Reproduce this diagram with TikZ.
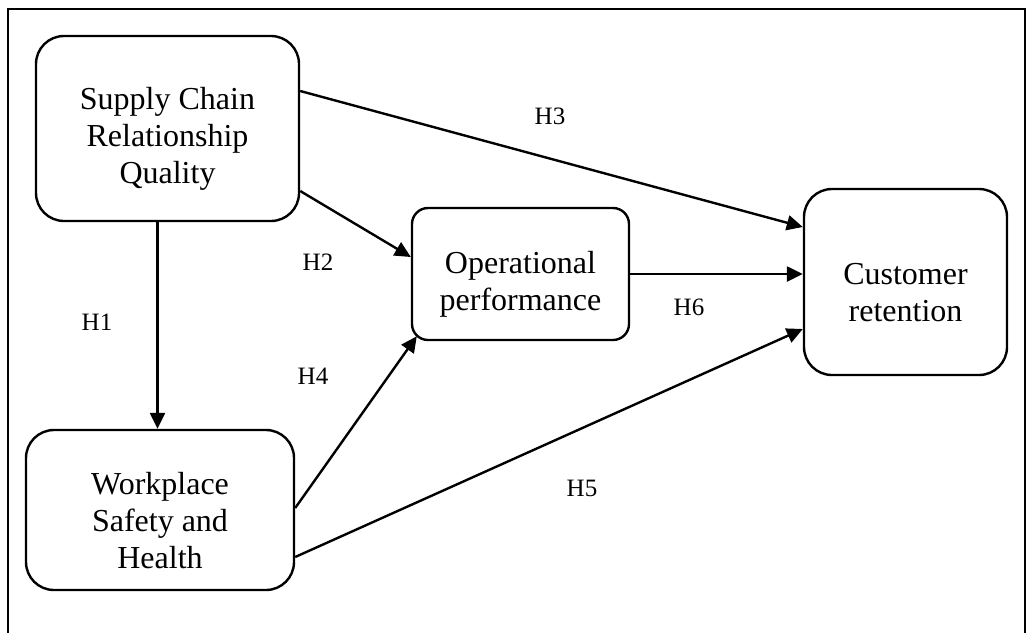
\documentclass[tikz,border=0pt]{standalone}
\usepackage{fontspec}
\setmainfont{Liberation Serif}
\usetikzlibrary{arrows.meta}
\newcommand{\lift}{\rule{0pt}{21.5pt}}

\begin{document}
\begin{tikzpicture}[x=0.5pt,y=-0.5pt,
   box/.style={draw,line width=1.2pt,rounded corners=14pt,align=center,inner sep=0pt,
     font=\fontsize{16}{18.5}\selectfont},
   hyp/.style={font=\fontsize{12.5}{15}\selectfont,inner sep=0pt},
   link/.style={line width=1.2pt,-{Triangle[length=8pt,width=7.5pt]}}]
   \useasboundingbox (0,0) rectangle (1027,632);
   \draw[line width=1.2pt] (8,645) -- (8,9) -- (1025,9) -- (1025,645);
   \node[box,minimum width=131.5pt,minimum height=92.5pt] (scrq) at (167.5,128.5) {\lift Supply Chain\\Relationship\\Quality};
   \node[box,minimum width=134pt,minimum height=80pt] (wsh) at (160,510) {\lift Workplace\\Safety and\\Health};
   \node[box,rounded corners=8pt,minimum width=108.5pt,minimum height=66pt] (op) at (520.5,274) {\lift Operational\\performance};
   \node[box,minimum width=101.5pt,minimum height=93pt] (cr) at (905.5,282) {\lift Customer\\retention};
   \draw[link] ([xshift=-5pt]scrq.south) -- ([xshift=-5pt]scrq.south |- wsh.north);
   \draw[link] ([yshift=-31.25pt]scrq.east) -- ([yshift=8.5pt]op.west);
   \draw[link] ([yshift=18.75pt]scrq.east) -- ([yshift=27.5pt]cr.west);
   \draw[link] ([yshift=1pt]wsh.east) -- ([shift={(3pt,2.5pt)}]op.south west);
   \draw[link] ([yshift=-23.5pt]wsh.east) -- ([yshift=-23.5pt]cr.west);
   \draw[link] (op.east) -- (op.east -| cr.west);
   \node[hyp] (h1) at (97,322) {H1};
   \node[hyp] (h2) at (318,262) {H2};
   \node[hyp] (h3) at (550,116) {H3};
   \node[hyp] (h4) at (313,376) {H4};
   \node[hyp] (h5) at (582,488) {H5};
   \node[hyp] (h6) at (689,307) {H6};
\end{tikzpicture}
\end{document}
